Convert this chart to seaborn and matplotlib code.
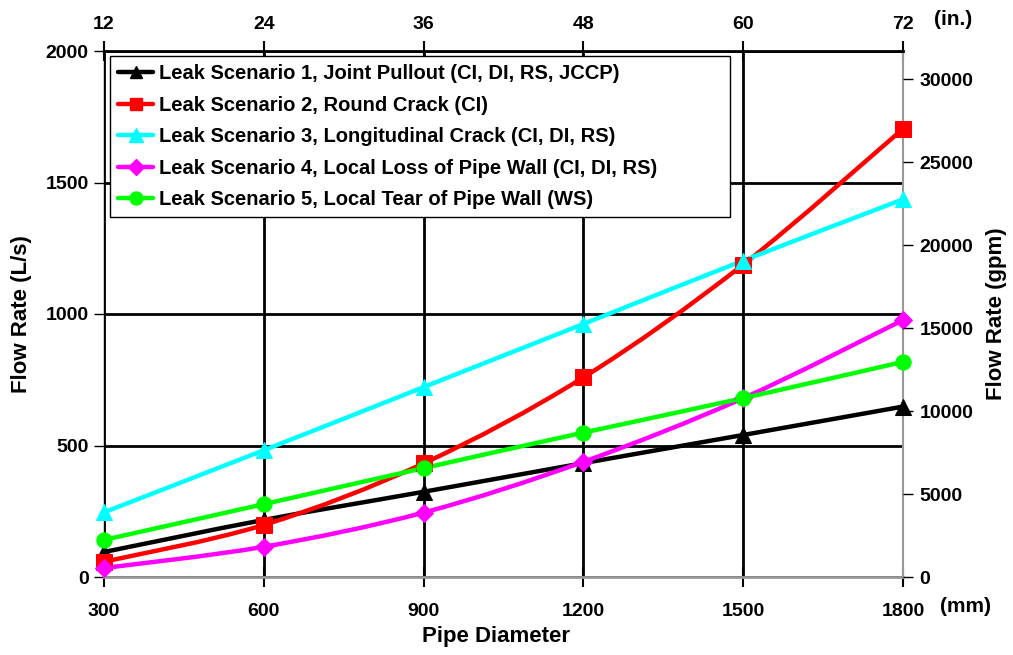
import numpy as np
import pandas as pd
import matplotlib
matplotlib.use("Agg")
import matplotlib.pyplot as plt
from matplotlib.path import Path
from matplotlib.patches import PathPatch
from matplotlib.lines import Line2D
import seaborn as sns

# Pipe diameters (mm) and leak flow rates (L/s)
diameter_mm = [300, 600, 900, 1200, 1500, 1800]
scenario_1 = [95, 217, 324, 433, 540, 648]
scenario_2 = [58, 198, 432, 759, 1188, 1704]
scenario_3 = [246, 482, 722, 962, 1203, 1436]
scenario_4 = [34, 115, 245, 438, 680, 977]
scenario_5 = [141, 277, 414, 549, 680, 818]

labels = [
    "Leak Scenario 1, Joint Pullout (CI, DI, RS, JCCP)",
    "Leak Scenario 2, Round Crack (CI)",
    "Leak Scenario 3, Longitudinal Crack (CI, DI, RS)",
    "Leak Scenario 4, Local Loss of Pipe Wall (CI, DI, RS)",
    "Leak Scenario 5, Local Tear of Pipe Wall (WS)",
]
series = [scenario_1, scenario_2, scenario_3, scenario_4, scenario_5]
colors = ["#000000", "#ff0000", "#00ffff", "#ff00ff", "#00ff00"]
markers = ["^", "s", "^", "D", "o"]
msizes = [11, 11, 12, 9, 11]

top_ticks_in = [12, 24, 36, 48, 60, 72]
right_ticks_gpm = [0, 5000, 10000, 15000, 20000, 25000, 30000]
GPM_PER_LPS = 15.850

sns.set_theme(style="white")
plt.rcParams["font.family"] = ["Liberation Sans", "DejaVu Sans"]
plt.rcParams["font.weight"] = "bold"
for key in ["text.color", "axes.labelcolor", "xtick.color", "ytick.color",
            "xtick.labelcolor", "ytick.labelcolor"]:
    plt.rcParams[key] = "black"

TICK_FS = 14
LABEL_FS = 16

df = pd.DataFrame({
    "diameter": np.tile(diameter_mm, len(series)),
    "flow": np.concatenate(series),
    "scenario": np.repeat(labels, len(diameter_mm)),
})

fig = plt.figure(figsize=(10.13, 6.55), dpi=100)
ax = fig.add_axes([104 / 1013, (655 - 577) / 655, 799 / 1013, 526 / 655])

ax.set_xlim(300, 1800)
ax.set_ylim(0, 2000)
ax.set_xticks(diameter_mm)
ax.set_yticks([0, 500, 1000, 1500, 2000])
ax.grid(True, color="black", linewidth=2)
ax.set_axisbelow(True)


def smooth_path(xs, ys):
    """Cardinal-spline (Catmull-Rom style) Bezier path through the points."""
    pts = np.column_stack([xs, ys]).astype(float)
    verts = [pts[0]]
    codes = [Path.MOVETO]
    n = len(pts)
    for i in range(n - 1):
        p0 = pts[i - 1] if i > 0 else pts[i]
        p1 = pts[i]
        p2 = pts[i + 1]
        p3 = pts[i + 2] if i + 2 < n else pts[i + 1]
        c1 = p1 + (p2 - p0) / 6.0
        c2 = p2 - (p3 - p1) / 6.0
        verts += [c1, c2, p2]
        codes += [Path.CURVE4] * 3
    return Path(verts, codes)


handles = []
for lab, ys, c, m, ms in zip(labels, series, colors, markers, msizes):
    patch = PathPatch(smooth_path(diameter_mm, ys), facecolor="none",
                      edgecolor=c, linewidth=3.2, transform=ax.transData,
                      zorder=3, clip_on=False)
    ax.add_patch(patch)
    sub = df[df["scenario"] == lab]
    sns.lineplot(data=sub, x="diameter", y="flow", ax=ax, color=c,
                 marker=m, markersize=ms, markeredgecolor=c, linestyle="",
                 legend=False, zorder=4, clip_on=False)
    handles.append(Line2D([0], [0], color=c, linewidth=3.2, marker=m,
                          markersize=ms * 0.85, markeredgecolor=c))

# Spines
ax.spines["left"].set_color("black")
ax.spines["left"].set_linewidth(1.0)
ax.spines["top"].set_color("black")
ax.spines["top"].set_linewidth(2.0)
ax.spines["bottom"].set_color("#999999")
ax.spines["bottom"].set_linewidth(2.0)
ax.spines["right"].set_color("#999999")
ax.spines["right"].set_linewidth(1.5)

ax.tick_params(axis="y", which="major", direction="out", length=7, width=1,
               color="black", labelsize=TICK_FS, pad=4, left=True)
ax.tick_params(axis="x", which="major", direction="inout", length=14, width=1.5,
               color="black", labelsize=TICK_FS, pad=12, bottom=True)
for t in ax.get_xticklabels() + ax.get_yticklabels():
    t.set_fontweight("bold")

ax.set_xlabel("Pipe Diameter", fontsize=LABEL_FS, fontweight="bold", va="center")
ax.set_ylabel("Flow Rate (L/s)", fontsize=LABEL_FS, fontweight="bold", va="center")
ax.xaxis.set_label_coords(0.49, -0.114)
ax.yaxis.set_label_coords(-0.103, 0.5)

# Right axis in gpm
ax_r = ax.twinx()
ax_r.set_ylim(0, 2000 * GPM_PER_LPS)
ax_r.set_yticks(right_ticks_gpm)
ax_r.tick_params(axis="y", direction="out", length=7, width=1, color="black",
                 labelsize=TICK_FS, pad=5, right=True)
for t in ax_r.get_yticklabels():
    t.set_fontweight("bold")
ax_r.set_ylabel("Flow Rate (gpm)", fontsize=LABEL_FS, fontweight="bold",
                va="center", rotation=90)
ax_r.yaxis.set_label_coords(1.117, 0.5)
ax_r.grid(False)
for sp in ax_r.spines.values():
    sp.set_visible(False)

# Top axis in inches
ax_t = ax.secondary_xaxis("top", functions=(lambda mm: mm / 25.0,
                                            lambda inch: inch * 25.0))
ax_t.set_xticks(top_ticks_in)
ax_t.tick_params(axis="x", direction="inout", length=14, width=1.5,
                 color="black", labelsize=TICK_FS, pad=6)
for t in ax_t.get_xticklabels():
    t.set_fontweight("bold")
ax_t.spines["top"].set_visible(False)

# Unit annotations beside the last tick labels
ax.text(1.046, -0.057, "(mm)", transform=ax.transAxes, fontsize=15,
        fontweight="bold", ha="left", va="center")
ax.text(1.039, 1.06, "(in.)", transform=ax.transAxes, fontsize=15,
        fontweight="bold", ha="left", va="center")

leg = ax.legend(handles, labels, loc="upper left", mode="expand",
                bbox_to_anchor=(0.0075, 0.6844, 0.776, 0.306),
                frameon=True, fancybox=False, framealpha=1, edgecolor="black",
                prop={"weight": "bold", "size": 14.5}, handlelength=1.75,
                handletextpad=0.3, labelspacing=0.62, borderpad=0.4,
                borderaxespad=0.0)
leg.get_frame().set_linewidth(1.0)
leg.set_zorder(10)

fig.savefig("out.png", dpi=100, facecolor="white")
